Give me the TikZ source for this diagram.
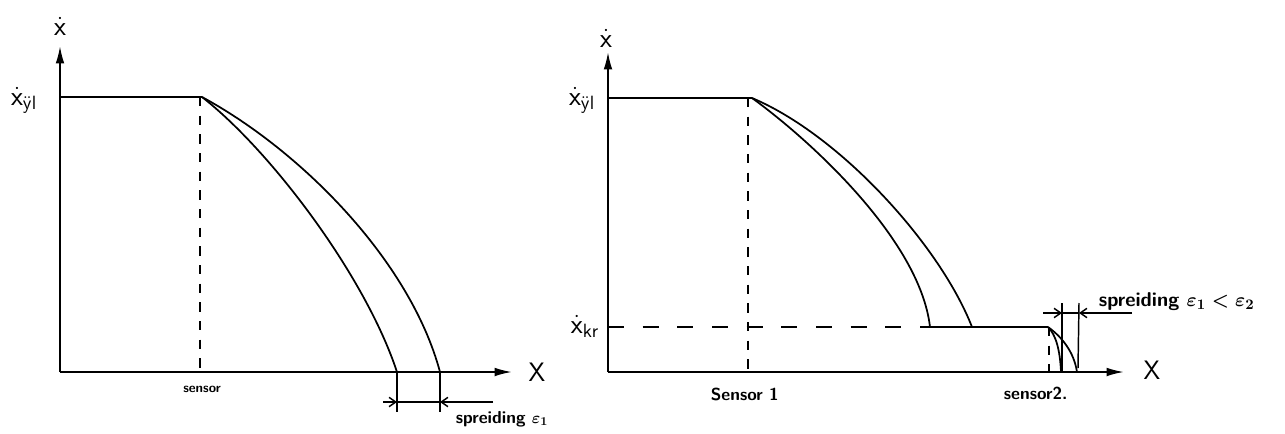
\documentclass[tikz,border=0pt]{standalone}
\usepackage{amsmath}
\usetikzlibrary{arrows.meta}
\begin{document}
\begin{tikzpicture}[x=0.75pt,y=-0.75pt,line width=1.3pt,
  axis/.style={line width=1.4pt,-{Latex[length=13pt,width=6.5pt]}},
  dsh/.style={line width=1.3pt,dash pattern=on 7pt off 7pt},
  dshh/.style={line width=1.3pt,dash pattern=on 12pt off 14pt},
  thin/.style={line width=1.1pt},
  dimtip/.style={line width=1.1pt,-{Straight Barb[length=5pt,width=7pt]}},
  big/.style={font=\fontsize{20}{22}\selectfont\sffamily,inner sep=0pt},
  txt/.style={font=\fontsize{13}{15}\selectfont\sffamily\bfseries,inner sep=0pt,anchor=west},
  sm/.style={font=\fontsize{10}{12}\selectfont\sffamily\bfseries,inner sep=0pt}]
\useasboundingbox (0,0) rectangle (1285,433);

% ---------------- left panel ----------------
\coordinate (LO) at (60,372);
\coordinate (LT) at (60,46);
\coordinate (LR) at (512,372);
\draw[axis] (LO) -- (LT);
\draw[axis] (LO) -- (LR);
\draw (60,97) -- (202,97);
\draw[dsh] (200,97) -- (200,372);
\draw (202,97) .. controls (300,150) and (410,260) .. (440,372);
\draw (202,97) .. controls (270,150) and (365,275) .. (397,372);
\draw[thin] (397,372) -- (397,412);
\draw[thin] (440,372) -- (440,412);
\draw[thin] (397,402) -- (440,402);
\draw[dimtip] (383,402) -- (397,402);
\draw[dimtip] (493,402) -- (440,402);

\node[big] (xdL) at (60,26) {$\dot{\mathsf{x}}$};
\node[big] (xylL) at (24,100) {$\dot{\mathsf{x}}_{\ddot{\mathsf{y}}\mathsf{l}}$};
\node[big] (XL) at (537,372) {X};
\node[sm] (sensL) at (202,389) {sensor};
\node[txt] (sprL) at (455,419) {spreiding $\boldsymbol{\varepsilon_{1}}$};

% ---------------- right panel ----------------
\coordinate (RO) at (608,372);
\coordinate (RT) at (608,52);
\coordinate (RR) at (1124,372);
\draw[axis] (RO) -- (RT);
\draw[axis] (RO) -- (RR);
\draw (608,98) -- (752,98);
\draw[dsh] (748,98) -- (748,372);
\draw (752,98) .. controls (840,135) and (940,245) .. (972,327);
\draw (752,98) .. controls (810,140) and (920,240) .. (930,327);
\draw[dshh] (608,327) -- (930,327);
\draw (930,327) -- (1048,327);
\draw[dsh] (1049,327) -- (1049,372);
\draw (1048,327) .. controls (1062,337) and (1074,352) .. (1077,372);
\draw (1048,327) .. controls (1056,335) and (1060,350) .. (1061,372);
\draw[thin] (1062,303) -- (1062,372);
\draw[thin] (1079,303) -- (1078,368);
\draw[thin] (1062,313) -- (1079,313);
\draw[dimtip] (1043,313) -- (1062,313);
\draw[dimtip] (1132,313) -- (1079,313);

\node[big] (xdR) at (606,38) {$\dot{\mathsf{x}}$};
\node[big] (xylR) at (582,100) {$\dot{\mathsf{x}}_{\ddot{\mathsf{y}}\mathsf{l}}$};
\node[big] (xkr) at (585,326) {$\dot{\mathsf{x}}_{\mathsf{kr}}$};
\node[big] (XR) at (1152,370) {X};
\node[txt] (sens1) at (710,394) {Sensor 1};
\node[txt] (sens2) at (1003,393) {sensor2.};
\node[txt,font=\fontsize{15}{17}\selectfont\sffamily\bfseries] (sprR) at (1098,302) {spreiding $\boldsymbol{\varepsilon_{1} < \varepsilon_{2}}$};
\end{tikzpicture}
\end{document}
